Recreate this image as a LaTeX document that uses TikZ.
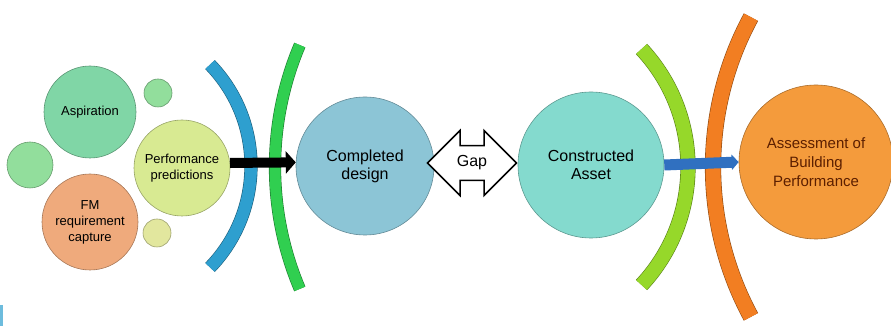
\documentclass[tikz,border=0pt]{standalone}
\usepackage{fontspec}
\setmainfont{Liberation Sans}
\usetikzlibrary{arrows.meta,shapes.arrows}

\definecolor{aspgreen}{HTML}{80D6A6}
\definecolor{dotgreen}{HTML}{92DE9C}
\definecolor{fmorange}{HTML}{EFAA7C}
\definecolor{perfyellow}{HTML}{D8EA92}
\definecolor{dotyellow}{HTML}{E2E79E}
\definecolor{designblue}{HTML}{8CC5D6}
\definecolor{assetteal}{HTML}{84DACE}
\definecolor{assessorange}{HTML}{F49B3C}
\definecolor{arcblue}{HTML}{2E9FCF}
\definecolor{arcgreen}{HTML}{30CF50}
\definecolor{arclime}{HTML}{96D82A}
\definecolor{arcorange}{HTML}{F27E22}
\definecolor{linkblue}{HTML}{3070C0}
\definecolor{textbrown}{HTML}{5C1F00}

\tikzset{
  bubble/.style={circle, inner sep=0pt, align=center, draw=#1!70!black,
    line width=0.6pt, fill=#1},
  band/.style={draw=#1!60!black, line width=0.6pt, double=#1},
  smalltext/.style={font=\fontsize{13}{16}\selectfont},
  bigtext/.style={font=\fontsize{16}{18}\selectfont}
}

\begin{document}
\begin{tikzpicture}[x=1pt,y=1pt]
\useasboundingbox (0,0) rectangle (891,326);
\fill[arcblue!70!white] (0,0) rectangle (3,21);

% left cluster
\node[bubble=aspgreen, minimum size=92pt, smalltext] (asp) at (90,214) {Aspiration};
\node[bubble=dotgreen, minimum size=46pt] (dotleft) at (30,161) {};
\node[bubble=fmorange, minimum size=96pt, smalltext] (fm) at (90,104) {FM\\requirement\\capture};
\node[bubble=dotgreen, minimum size=28pt] (dottop) at (158,233) {};
\node[bubble=perfyellow, minimum size=96pt, smalltext] (perf) at (182,158) {Performance\\predictions};
\node[bubble=dotyellow, minimum size=28pt] (dotbottom) at (157,93) {};

% arcs
\draw[band=arcblue, double distance=12pt] (105,160) ++(-44:146) arc (-44:44:146);
\draw[band=arcgreen, double distance=11pt] (587,159) ++(157:312) arc (157:203:312);
\draw[band=arclime, double distance=14pt] (515,159) ++(-43:173) arc (-43:43:173);
\draw[band=arcorange, double distance=15pt] (1028,159) ++(151.6:315) arc (151.6:208.4:315);

% main row
\node[bubble=designblue, minimum size=138pt, bigtext] (design) at (365,160) {Completed\\design};
\node[double arrow, draw, line width=1.5pt, fill=white, bigtext,
  minimum height=89pt, minimum width=65pt, double arrow head extend=15pt,
  inner sep=9pt] (gap) at (472,163) {Gap};
\node[bubble=assetteal, minimum size=146pt, bigtext] (asset) at (591,161) {Constructed\\Asset};
\node[bubble=assessorange, minimum size=154pt, text=textbrown,
  font=\fontsize{15}{19}\selectfont] (assess) at (816,164) {Assessment of\\Building\\Performance};

% links
\draw[line width=10pt, -{Triangle[length=10pt,width=22pt]}] (perf.6) -- (design.177);
\draw[linkblue, line width=11pt, -{Triangle[length=7pt,width=15pt]}] (asset.east) -- (assess.west);
\end{tikzpicture}
\end{document}
